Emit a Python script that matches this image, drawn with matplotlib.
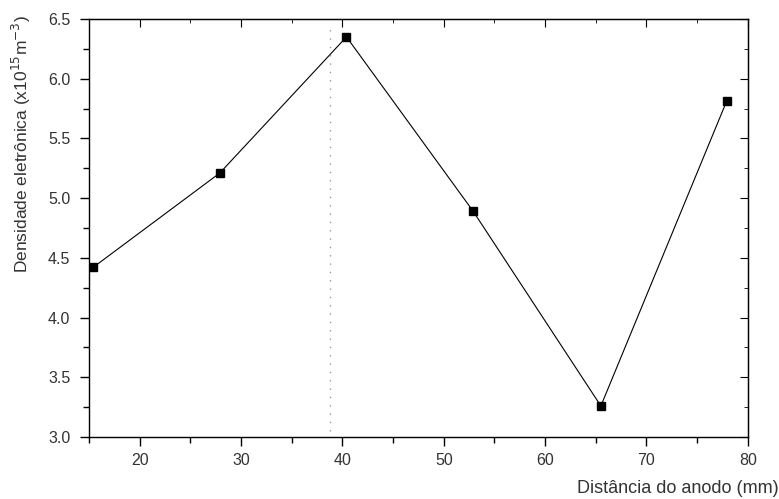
import numpy as np
import matplotlib
matplotlib.use("Agg")
import matplotlib.pyplot as plt
from matplotlib.ticker import MultipleLocator

plt.rcParams['font.family'] = ['Liberation Sans', 'DejaVu Sans']

# dados
distancia = [15.4, 27.9, 40.4, 52.9, 65.5, 77.9]          # mm
densidade = [4.42, 5.21, 6.35, 4.89, 3.26, 5.81]          # x10^15 m^-3
x_pontilhada = 38.75

fig = plt.figure(figsize=(7.79, 4.99), dpi=100)
ax = fig.add_axes([0.1143, 0.1242, 0.8457, 0.8378])

ax.plot(distancia, densidade, '-', color='black', lw=0.8,
        marker='s', ms=6, mfc='black', mec='black')
ax.plot([x_pontilhada, x_pontilhada], [3.05, 6.45], linestyle=(0, (1, 5)),
        color='#999999', lw=1.0)

ax.set_xlim(15, 80)
ax.set_ylim(3.0, 6.5)
ax.xaxis.set_major_locator(MultipleLocator(10))
ax.xaxis.set_minor_locator(MultipleLocator(5))
ax.yaxis.set_major_locator(MultipleLocator(0.5))
ax.yaxis.set_minor_locator(MultipleLocator(0.25))
ax.yaxis.set_major_formatter(plt.FormatStrFormatter('%.1f'))

ax.tick_params(which='both', direction='out', labelsize=11.5, colors='black',
               labelcolor='#333333', width=1.0)
ax.tick_params(which='major', length=6.5)
ax.tick_params(which='minor', length=4)
ax.tick_params(axis='x', which='major', pad=5)
ax.tick_params(axis='y', which='major', pad=7)
for s in ax.spines.values():
    s.set_linewidth(1.0)

# ticks espelhados para dentro no topo e na direita
top = ax.secondary_xaxis('top')
top.xaxis.set_major_locator(MultipleLocator(10))
top.xaxis.set_minor_locator(MultipleLocator(5))
top.tick_params(which='both', direction='in', labeltop=False)
top.tick_params(which='major', length=5.5)
top.tick_params(which='minor', length=3)
right = ax.secondary_yaxis('right')
right.yaxis.set_major_locator(MultipleLocator(0.5))
right.yaxis.set_minor_locator(MultipleLocator(0.25))
right.tick_params(which='both', direction='in', labelright=False)
right.tick_params(which='major', length=5.5)
right.tick_params(which='minor', length=3)

fig.text(0.999, 0.005, 'Distância do anodo (mm)', ha='right', va='bottom',
         fontsize=13, color='#333333')
ax.set_ylabel('Densidade eletrônica (x10$^{15}$m$^{-3}$)', fontsize=12.5,
              color='#333333', va='center')
ax.yaxis.set_label_coords(-0.102, 0.70)

fig.savefig('out.png', dpi=100)
